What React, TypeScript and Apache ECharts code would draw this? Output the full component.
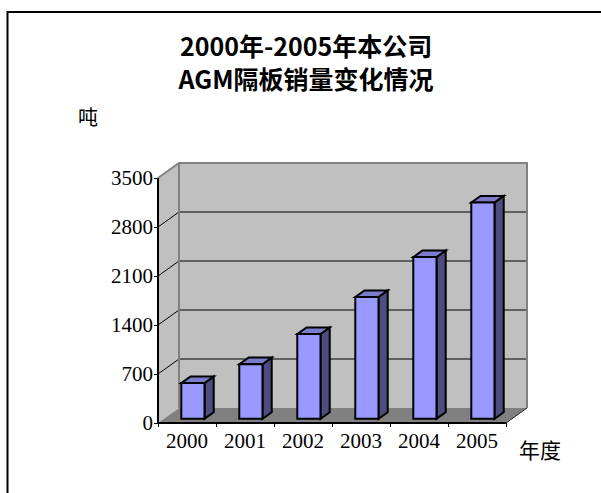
import React, { useEffect, useRef } from 'react';
import * as echarts from 'echarts';

const YEARS = ['2000', '2001', '2002', '2003', '2004', '2005'];
const SALES = [510, 780, 1210, 1740, 2310, 3090];
const Y_TICKS = [0, 700, 1400, 2100, 2800, 3500];
const TITLE_LINES = ['2000年-2005年本公司', 'AGM隔板销量变化情况'];
const Y_UNIT = '吨';
const X_UNIT = '年度';

const DX = 21;
const DY = 15;
const BAR_D0 = 0.28;
const BAR_DD = 0.44;
const BAR_RATIO = 0.4;

export default function App() {
  const ref = useRef<HTMLDivElement>(null);
  useEffect(() => {
    document.body.style.margin = '0';
    const chart = echarts.init(ref.current!, null, { renderer: 'svg' });
    const yMax = Y_TICKS[Y_TICKS.length - 1];
    const option: any = {
      animation: false,
      backgroundColor: '#fff',
      grid: { left: 158, top: 178, width: 348, height: 245, containLabel: false },
      xAxis: {
        type: 'category',
        data: YEARS,
        axisLine: { show: false },
        axisTick: { show: true, length: 4, lineStyle: { color: '#000', width: 1 } },
        axisLabel: { fontFamily: 'Liberation Serif', fontSize: 21, color: '#000', margin: 7 },
        splitLine: { show: false },
      },
      yAxis: {
        type: 'value',
        min: Y_TICKS[0],
        max: yMax,
        interval: Y_TICKS[1] - Y_TICKS[0],
        axisLine: { show: false },
        axisTick: { show: true, length: 4, lineStyle: { color: '#000', width: 1 } },
        axisLabel: { fontFamily: 'Liberation Serif', fontSize: 21, color: '#000', margin: 5, formatter: (v: number) => String(v) },
        splitLine: { show: false },
      },
      graphic: [
        {
          type: 'rect',
          shape: { x: 7.5, y: 12, width: 800, height: 800 },
          style: { fill: 'none', stroke: '#000', lineWidth: 2 },
          silent: true,
        },
        {
          type: 'text', x: 306, y: 45,
          style: { text: TITLE_LINES[0], fontSize: 25, fontWeight: 'bold', fontFamily: 'Noto Sans CJK SC', fill: '#000', textAlign: 'center', textVerticalAlign: 'middle' },
        },
        {
          type: 'text', x: 306, y: 78,
          style: { text: TITLE_LINES[1], fontSize: 25, fontWeight: 'bold', fontFamily: 'Noto Sans CJK SC', fill: '#000', textAlign: 'center', textVerticalAlign: 'middle' },
        },
        {
          type: 'text', x: 88, y: 116,
          style: { text: Y_UNIT, fontSize: 20, fontFamily: 'Noto Sans CJK SC', fill: '#000', textAlign: 'center', textVerticalAlign: 'middle' },
        },
        {
          type: 'text', x: 540, y: 449,
          style: { text: X_UNIT, fontSize: 21, fontFamily: 'Noto Sans CJK SC', fill: '#000', textAlign: 'center', textVerticalAlign: 'middle' },
        },
      ],
      series: [
        {
          type: 'custom',
          z: 1,
          silent: true,
          data: [[0, 0]],
          renderItem: (params: any, api: any) => {
            const cs = params.coordSys;
            const L = cs.x, T = cs.y, R = cs.x + cs.width, B = cs.y + cs.height;
            const children: any[] = [];
            children.push({ type: 'polygon', shape: { points: [[L + DX, T - DY], [R + DX, T - DY], [R + DX, B - DY], [L + DX, B - DY]] }, style: { fill: '#c0c0c0' } });
            children.push({ type: 'polygon', shape: { points: [[L, T], [L + DX, T - DY], [L + DX, B - DY], [L, B]] }, style: { fill: '#c0c0c0' } });
            children.push({ type: 'polygon', shape: { points: [[L, B], [L + DX, B - DY], [R + DX, B - DY], [R, B]] }, style: { fill: '#808080' } });
            Y_TICKS.forEach((v) => {
              if (v <= Y_TICKS[0] || v >= yMax) return;
              const y = api.coord([0, v])[1];
              children.push({ type: 'line', shape: { x1: L + DX, y1: y - DY, x2: R + DX, y2: y - DY }, style: { stroke: '#000', lineWidth: 1 } });
              children.push({ type: 'line', shape: { x1: L, y1: y, x2: L + DX, y2: y - DY }, style: { stroke: '#000', lineWidth: 1 } });
            });
            children.push({ type: 'polyline', shape: { points: [[L, T], [L + DX, T - DY], [R + DX, T - DY], [R + DX, B - DY]] }, style: { fill: 'none', stroke: '#808080', lineWidth: 2 } });
            children.push({ type: 'line', shape: { x1: L + DX, y1: T - DY, x2: L + DX, y2: B - DY }, style: { stroke: '#808080', lineWidth: 2 } });
            children.push({ type: 'line', shape: { x1: R, y1: B, x2: R + DX, y2: B - DY }, style: { stroke: '#222', lineWidth: 1 } });
            children.push({ type: 'polyline', shape: { points: [[L, T], [L, B], [R, B]] }, style: { fill: 'none', stroke: '#000', lineWidth: 2 } });
            return { type: 'group', children };
          },
        },
        {
          type: 'custom',
          z: 2,
          data: SALES.map((v, i) => [i, v]),
          renderItem: (params: any, api: any) => {
            const i = api.value(0);
            const v = api.value(1);
            const base = api.coord([i, 0]);
            const top = api.coord([i, v]);
            const band = api.size([1, 0])[0];
            const w = band * BAR_RATIO;
            const ox = DX * BAR_D0, oy = DY * BAR_D0;
            const bx = DX * BAR_DD, by = DY * BAR_DD;
            const xl = base[0] - w / 2 + ox, xr = xl + w;
            const yb = base[1] - oy, yt = top[1] - oy;
            const st = { stroke: '#000', lineWidth: 2, lineJoin: 'miter' };
            return {
              type: 'group',
              children: [
                { type: 'polygon', shape: { points: [[xr, yt], [xr + bx, yt - by], [xr + bx, yb - by], [xr, yb]] }, style: { fill: '#4d4d80', ...st } },
                { type: 'polygon', shape: { points: [[xl, yt], [xl + bx, yt - by], [xr + bx, yt - by], [xr, yt]] }, style: { fill: '#7b7bcc', ...st } },
                { type: 'polygon', shape: { points: [[xl, yt], [xr, yt], [xr, yb], [xl, yb]] }, style: { fill: '#9999ff', ...st } },
              ],
            };
          },
        },
      ],
    };
    chart.setOption(option);
    return () => chart.dispose();
  }, []);
  return <div ref={ref} style={{ width: 601, height: 493 }} />;
}
